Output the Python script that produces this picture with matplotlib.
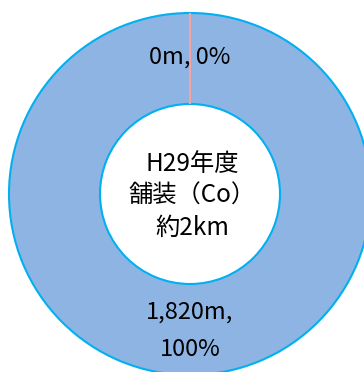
import matplotlib
matplotlib.use('Agg')
import numpy as np
import matplotlib.pyplot as plt

plt.rcParams['font.family'] = ['Noto Sans CJK JP', 'DejaVu Sans']

# data
lengths = [0, 1820]          # m
shares = [0, 100]            # %
label_fmt = ['{:,}m, {}%', '{:,}m,\n{}%']
center_text = 'H29年度\n舗装（Co）\n約2km'

fill_color = '#8EB4E3'
edge_color = '#00B0F0'
zero_color = '#F4A3A3'

fig = plt.figure(figsize=(3.64, 3.72), dpi=100)
ax = fig.add_axes([0, 0, 1, 1])
ax.axis('off')

cx, cy = 190, 178
r_out, r_in = 181, 90

wedges, _ = ax.pie(lengths, startangle=90, counterclock=False,
                   center=(cx, cy), radius=r_out, normalize=True,
                   colors=[fill_color, fill_color],
                   wedgeprops=dict(width=r_out - r_in, edgecolor=edge_color,
                                   linewidth=1.5))
wedges[0].set_edgecolor(zero_color)
wedges[0].set_zorder(5)
ax.set_xlim(0, 364)
ax.set_ylim(0, 372)
ax.set_aspect('equal')

r_mid = (r_out + r_in) / 2 + 1
for w, L, s, fmt in zip(wedges, lengths, shares, label_fmt):
    t1, t2 = w.theta1, w.theta2
    ang = np.deg2rad((t1 + t2) / 2)
    x = cx + r_mid * np.cos(ang)
    y = cy + r_mid * np.sin(ang)
    ax.text(x, y, fmt.format(L, s), ha='center', va='center',
            multialignment='center', fontsize=17, linespacing=1.8, zorder=6)

ax.text(cx + 2, cy - 2, center_text, ha='center', va='center', fontsize=17.5,
        multialignment='center', linespacing=1.3, zorder=6)

fig.savefig('out.png', dpi=100)
